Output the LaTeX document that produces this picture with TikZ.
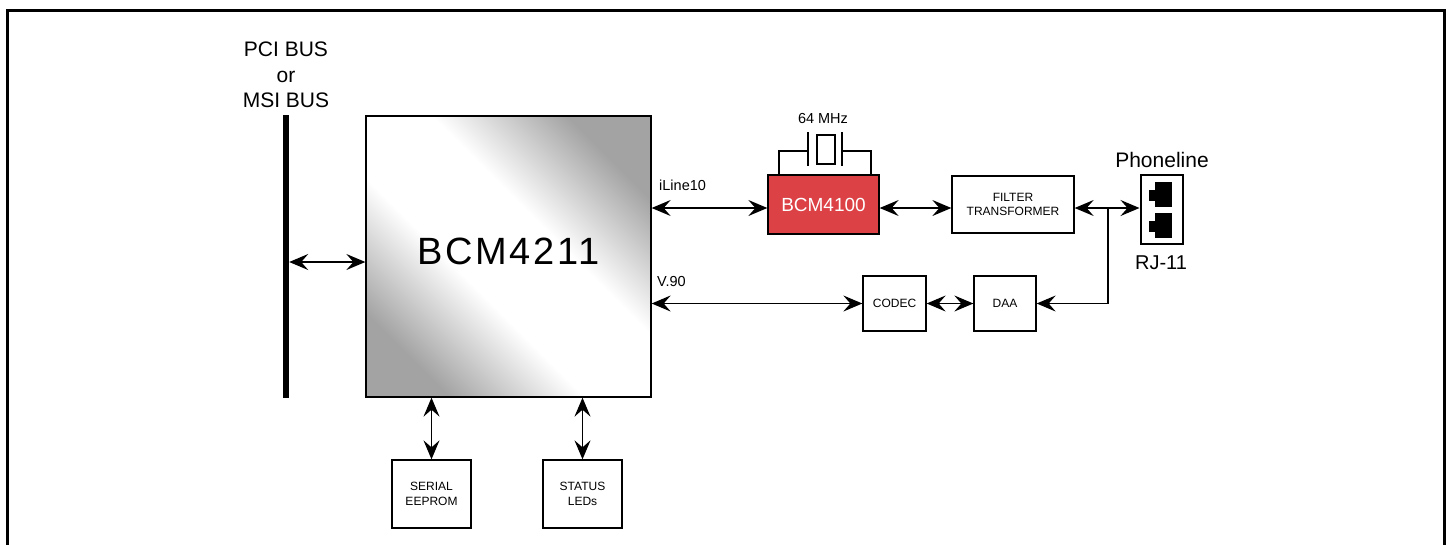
\documentclass[tikz,border=0pt]{standalone}
\usepackage{fontspec}
\setmainfont{Liberation Sans}
\newfontfamily\widefont[LetterSpace=7]{Liberation Sans}
\usetikzlibrary{arrows.meta}
\definecolor{chipred}{RGB}{220,65,70}
\pgfdeclarehorizontalshading{chipshade}{100bp}{color(0bp)=(gray!72); color(25bp)=(gray!72); color(42bp)=(white); color(58bp)=(white); color(75bp)=(gray!72); color(100bp)=(gray!72)}
\begin{document}
\begin{tikzpicture}[x=1pt,y=-1pt,
  box/.style={draw,line width=1.3pt,inner sep=0pt,align=center,font=\fontsize{12}{15}\selectfont},
  lbl/.style={inner sep=0pt,font=\fontsize{14.5}{17}\selectfont},
  big/.style={inner sep=0pt,font=\fontsize{21}{25}\selectfont},
  conn/.style={line width=1.4pt,{Stealth[length=19pt,width=16pt,inset=7pt]}-{Stealth[length=19pt,width=16pt,inset=7pt]}},
  toarrow/.style={line width=1.4pt,-{Stealth[length=19pt,width=16pt,inset=7pt]}},
  wire/.style={line width=1.3pt}
]
\useasboundingbox (0,0) rectangle (1449,544);
\clip (0,0) rectangle (1449,544);
\draw[line width=2.5pt] (7.5,600) -- (7.5,10.5) -- (1444.5,10.5) -- (1444.5,600);

% bus
\node[big,anchor=base] (pci) at (286,56) {PCI BUS};
\node[big,anchor=base] (or) at (286,82) {or};
\node[big,anchor=base] (msi) at (286,107) {MSI BUS};
\node[fill=black,inner sep=0pt,minimum width=6pt,minimum height=283pt] (bus) at (286,256.5) {};

% main chip
\node[draw,line width=1.3pt,shading=chipshade,shading angle=45,
  minimum width=285pt,minimum height=281pt,inner sep=0pt,text height=27pt,text depth=12pt,
  font=\widefont\fontsize{38}{42}\selectfont] (bcm) at (508.5,256.5) {BCM4211};

% lower boxes
\node[box,minimum width=79pt,minimum height=68pt] (eeprom) at (431.5,494) {SERIAL\\EEPROM};
\node[box,minimum width=79pt,minimum height=68pt] (status) at (582.5,494) {STATUS\\LEDs};

% BCM4100 and crystal
\node[draw,line width=1.3pt,fill=chipred,text=white,minimum width=111pt,minimum height=59pt,inner sep=0pt,
  font=\fontsize{19}{22}\selectfont] (bcm4100) at (823.5,204.5) {BCM4100};
\draw[wire] (779,175) -- (779,151) -- (808,151);
\draw[wire] (842,151) -- (871,151) -- (871,175);
\draw[line width=1.5pt] (808,132) -- (808,166);
\draw[line width=1.5pt] (842,132) -- (842,166);
\draw[wire] (817,135) rectangle (835,164);
\node[lbl,anchor=base] (mhz) at (823,123) {64 MHz};

% filter
\node[box,minimum width=122pt,minimum height=57pt,font=\fontsize{12}{14}\selectfont] (filter) at (1013,204.5) {FILTER\\TRANSFORMER};

% codec, daa
\node[box,minimum width=63pt,minimum height=55pt] (codec) at (894.5,303.5) {CODEC};
\node[box,minimum width=62pt,minimum height=55pt] (daa) at (1005,303.5) {DAA};

% jack
\node[draw,line width=2pt,minimum width=42pt,minimum height=69pt,inner sep=0pt] (jack) at (1161.5,209.5) {};
\fill (1155,182) rectangle (1172,207);
\fill (1149,190) rectangle (1156,201);
\fill (1155,213) rectangle (1172,238);
\fill (1149,221) rectangle (1156,232);
\node[big,anchor=base] (phone) at (1162,167) {Phoneline};
\node[big,anchor=base,font=\fontsize{20}{24}\selectfont] (rj) at (1161,269) {RJ-11};

% labels
\node[lbl,anchor=base west] (iline) at (659,190) {iLine10};
\node[lbl,anchor=base west] (v90) at (657,286) {V.90};

% connectors
\draw[conn] (bus.east |- 0,262) -- (bcm.west |- 0,262);
\draw[conn] (bcm.south -| eeprom.north) -- (eeprom.north);
\draw[conn] (bcm.south -| status.north) -- (status.north);
\draw[conn] (bcm.east |- 0,208) -- (bcm4100.west |- 0,208);
\draw[conn] (bcm4100.east |- 0,208) -- (filter.west |- 0,208);
\draw[conn] (filter.east |- 0,208) -- (jack.west |- 0,208);
\coordinate (junc) at (1108,208);
\draw[toarrow] (junc) -- (junc |- daa.east) -- (daa.east);
\draw[conn] (bcm.east |- codec.west) -- (codec.west);
\draw[conn] (codec.east) -- (daa.west);
\end{tikzpicture}
\end{document}
